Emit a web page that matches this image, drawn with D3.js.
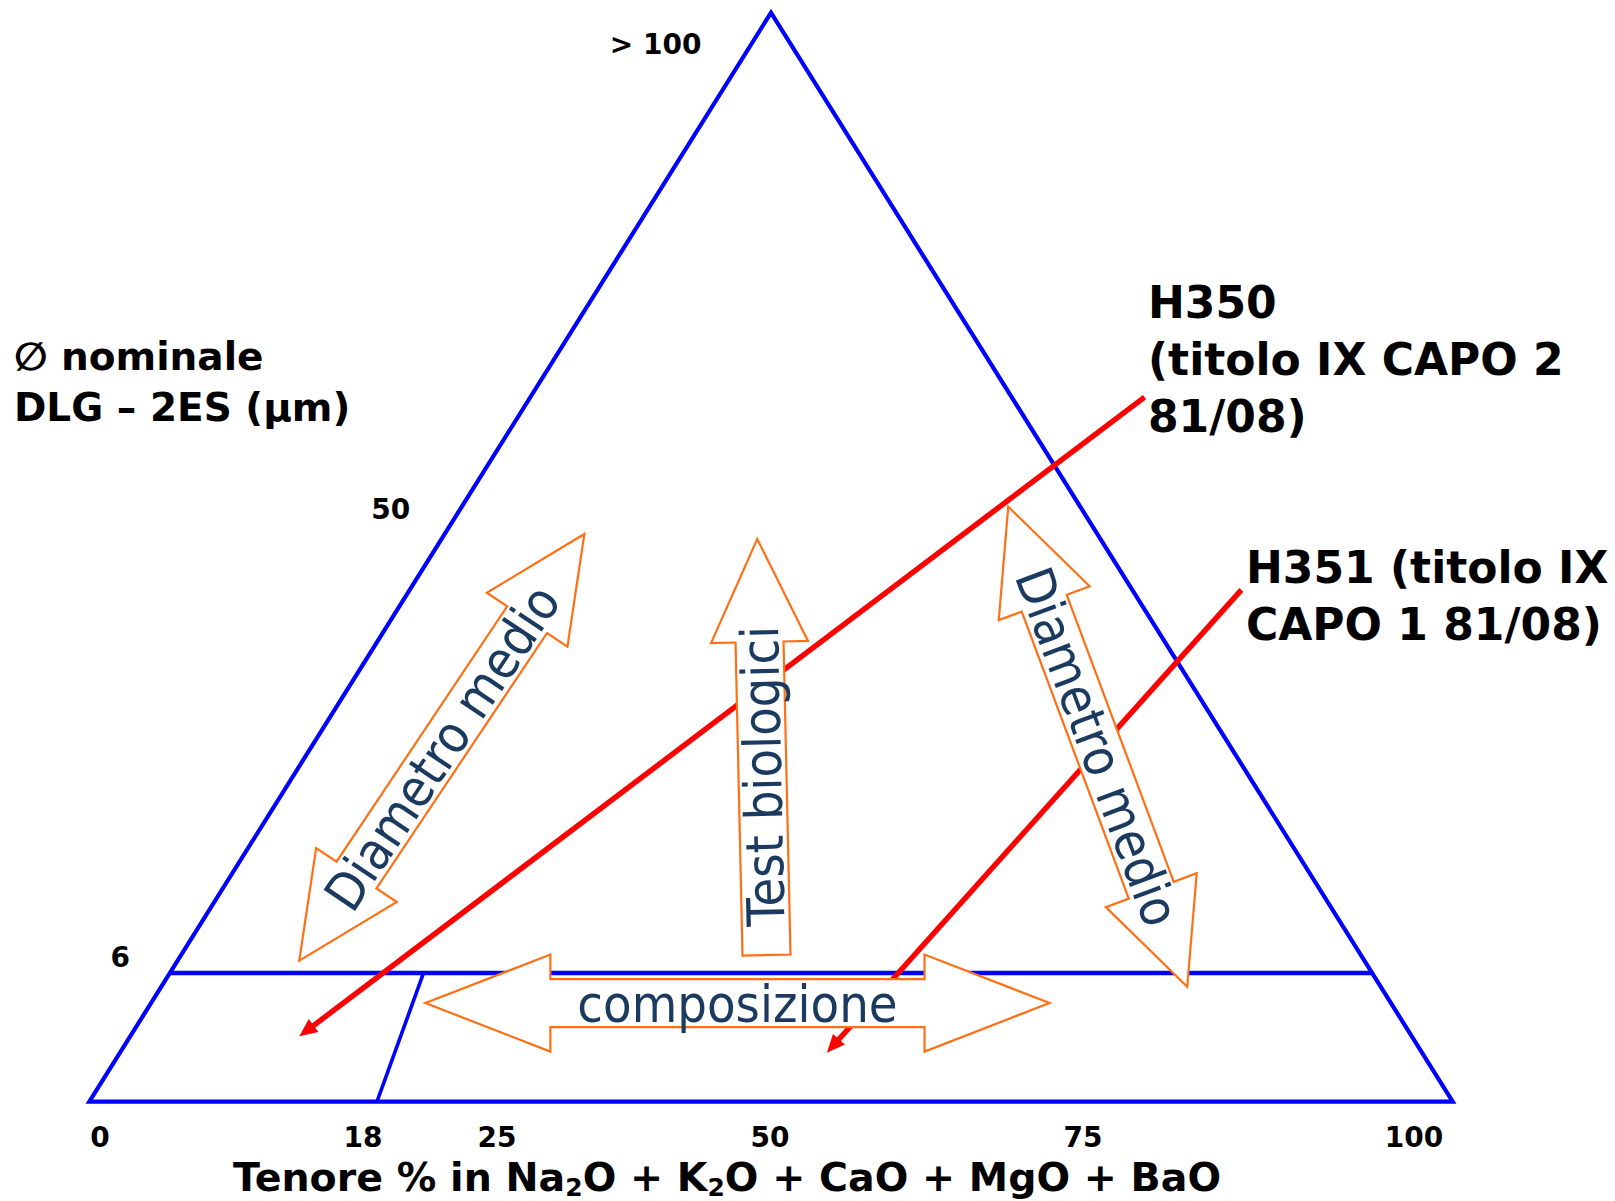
<!DOCTYPE html>
<html><head><meta charset="utf-8">
<script src="https://cdn.jsdelivr.net/npm/d3@7"></script>
<style>html,body{margin:0;padding:0;background:#fff;overflow:hidden;} svg{display:block;}</style>
</head><body>
<script>
// ---------------- data ----------------
const compositionTicks = [0, 18, 25, 50, 75, 100];
const compositionTickLabels = ["0", "18", "25", "50", "75", "100"];
const diameterTicks = [6, 50, 100];
const diameterTickLabels = ["6", "50", "> 100"];
const diameterThreshold = 6;
const compositionThreshold = 18;

const productNames = ["H350", "H351"];
const productLabelLines = [["H350", "(titolo IX CAPO 2", "81/08)"], ["H351 (titolo IX", "CAPO 1 81/08)"]];
// annotation lines, in frame percent [along base, along height]
const productLineStart = [[77.4, 64.7], [84.5, 47.0]];
const productLineEnd = [[15.4, 6.0], [54.1, 4.5]];

const arrowLabels = ["Diametro medio", "Test biologici", "Diametro medio", "composizione"];
const arrowFrom = [[15.40, 12.95], [49.67, 13.47], [67.40, 54.64], [24.65, 9.06]];
const arrowTo = [[36.31, 52.13], [48.99, 51.67], [80.53, 10.56], [70.43, 9.06]];
const arrowDouble = [true, false, true, true];
const arrowTextAt = [0.5, 0.43, 0.5, 0.5];

const axisTitleParts = [["Tenore % in Na", false], ["2", true], ["O + K", false], ["2", true], ["O + CaO + MgO + BaO", false]];
const sideTitleLines = ["\u2205 nominale", "DLG \u2013 2ES (\u03bcm)"];

// ---------------- layout ----------------
const W = 1615, H = 1201;
const svg = d3.select("body").append("svg").attr("width", W).attr("height", H);

const fx = d3.scaleLinear().domain([0, 100]).range([89.3, 1452.7]);
const fy = d3.scaleLinear().domain([0, 100]).range([1101.7, 12.7]);
const dScale = d3.scaleLinear().domain([0, diameterThreshold, 100]).range([0, 11.82, 100]);
const compFrac = d3.scaleLinear().domain([0, compositionThreshold, 100]).range([0, 0.211, 1]);
const tickX = d3.scaleLinear().domain(compositionTicks).range([100, 363, 497, 770, 1083, 1414]);
const sideY = d3.scaleLinear().domain(diameterTicks).range([967, 519, 54]);

function pt(c, d) {
  const v = dScale(d);
  const u = v / 2 + compFrac(c) * (100 - v);
  return [fx(u), fy(v)];
}
const framePx = p => [fx(p[0]), fy(p[1])];
const leftEdgeX = y => fx(fy.invert(y) / 2);

const BLUE = "#0000ff", RED = "#ff0000", ORANGE = "#ff6f15", NAVY = "#1b3a5f";
const boldFont = "'DejaVu Sans', Verdana, sans-serif";
const arrowFont = "'DejaVu Sans Condensed', 'DejaVu Sans', sans-serif";

// triangle
const line = d3.line();
svg.append("path")
  .attr("d", line([pt(0, 0), pt(100, 0), pt(50, 100)]) + "Z")
  .attr("fill", "none").attr("stroke", BLUE).attr("stroke-width", 4.2).attr("stroke-linejoin", "miter");
// threshold lines
svg.append("path").attr("d", line([pt(0, diameterThreshold), pt(100, diameterThreshold)]))
  .attr("fill", "none").attr("stroke", BLUE).attr("stroke-width", 4.4);
svg.append("path").attr("d", line([pt(compositionThreshold, 0), pt(compositionThreshold, diameterThreshold)]))
  .attr("fill", "none").attr("stroke", BLUE).attr("stroke-width", 3.6);

// red annotation lines with arrowheads
productNames.forEach((name, i) => {
  const a = framePx(productLineStart[i]), b = framePx(productLineEnd[i]);
  const L = Math.hypot(b[0] - a[0], b[1] - a[1]);
  const dx = (b[0] - a[0]) / L, dy = (b[1] - a[1]) / L;
  const hl = 18, hw = 8;
  const e = [b[0] - dx * (hl - 3), b[1] - dy * (hl - 3)];
  svg.append("path").attr("d", line([a, e])).attr("stroke", RED).attr("stroke-width", 5.4).attr("fill", "none");
  const base = [b[0] - dx * hl, b[1] - dy * hl];
  svg.append("path").attr("d", line([b, [base[0] - dy * hw, base[1] + dx * hw], [base[0] + dy * hw, base[1] - dx * hw]]) + "Z")
    .attr("fill", RED);
});

// block arrows
function arrowPoly(p0, p1, dbl, hl, hw, sw) {
  const L = Math.hypot(p1[0] - p0[0], p1[1] - p0[1]);
  const d = [(p1[0] - p0[0]) / L, (p1[1] - p0[1]) / L];
  const n = [-d[1], d[0]];
  const P = (p, a, b) => [p[0] + d[0] * a + n[0] * b, p[1] + d[1] * a + n[1] * b];
  const pts = [p1, P(p1, -hl, hw / 2), P(p1, -hl, sw / 2)];
  if (dbl) {
    pts.push(P(p0, hl, sw / 2), P(p0, hl, hw / 2), p0, P(p0, hl, -hw / 2), P(p0, hl, -sw / 2));
  } else {
    pts.push(P(p0, 0, sw / 2), P(p0, 0, -sw / 2));
  }
  pts.push(P(p1, -hl, -sw / 2), P(p1, -hl, -hw / 2));
  return pts;
}
arrowLabels.forEach((lab, i) => {
  const p0 = framePx(arrowFrom[i]), p1 = framePx(arrowTo[i]);
  const hl = i === 3 ? 125 : 103;
  svg.append("path").attr("d", line(arrowPoly(p0, p1, arrowDouble[i], hl, 97, 48)) + "Z")
    .attr("fill", "#fff").attr("stroke", ORANGE).attr("stroke-width", 2.2).attr("stroke-linejoin", "miter");
});
arrowLabels.forEach((lab, i) => {
  const p0 = framePx(arrowFrom[i]), p1 = framePx(arrowTo[i]);
  const t = arrowTextAt[i];
  const c = [p0[0] + (p1[0] - p0[0]) * t, p0[1] + (p1[1] - p0[1]) * t];
  const ang = Math.atan2(p1[1] - p0[1], p1[0] - p0[0]) * 180 / Math.PI;
  svg.append("text").text(lab)
    .attr("transform", `translate(${c[0]},${c[1]}) rotate(${ang})`)
    .attr("text-anchor", "middle").attr("dy", "0.36em")
    .attr("font-family", arrowFont).style("font-stretch", "condensed")
    .attr("font-size", 52).attr("fill", NAVY);
});

// bottom tick labels
svg.selectAll("text.btick").data(compositionTicks).enter().append("text")
  .attr("class", "btick").attr("x", d => tickX(d)).attr("y", 1147)
  .attr("text-anchor", "middle").attr("font-family", boldFont).attr("font-weight", "bold")
  .attr("font-size", 28).text((d, i) => compositionTickLabels[i]);

// side tick labels
svg.selectAll("text.stick").data(diameterTicks).enter().append("text")
  .attr("class", "stick").attr("x", d => leftEdgeX(sideY(d) - 10) - 50).attr("y", d => sideY(d))
  .attr("text-anchor", "end").attr("font-family", boldFont).attr("font-weight", "bold")
  .attr("font-size", 28).text((d, i) => diameterTickLabels[i]);

// axis title
const at = svg.append("text").attr("x", 727).attr("y", 1191).attr("text-anchor", "middle")
  .attr("font-family", boldFont).attr("font-weight", "bold").attr("font-size", 39.5);
axisTitleParts.forEach(([s, sub], k) => {
  const ts = at.append("tspan").text(s);
  if (sub) ts.attr("font-size", 25).attr("dy", 5);
  else ts.attr("dy", k > 0 ? -5 : 0);
});

// side title
svg.append("text").attr("x", 14).attr("y", 370).attr("font-family", boldFont).attr("font-weight", "bold")
  .attr("font-size", 39).selectAll("tspan").data(sideTitleLines).enter().append("tspan")
  .attr("x", 14).attr("dy", (d, i) => i ? 51 : 0).text(d => d);

// product labels
const labelPos = [[1148, 318], [1246, 583]];
productLabelLines.forEach((lines, i) => {
  svg.append("text").attr("x", labelPos[i][0]).attr("y", labelPos[i][1])
    .attr("font-family", boldFont).attr("font-weight", "bold").attr("font-size", 44)
    .selectAll("tspan").data(lines).enter().append("tspan")
    .attr("x", labelPos[i][0]).attr("dy", (d, j) => j ? 57 : 0).text(d => d);
});
</script>
</body></html>
